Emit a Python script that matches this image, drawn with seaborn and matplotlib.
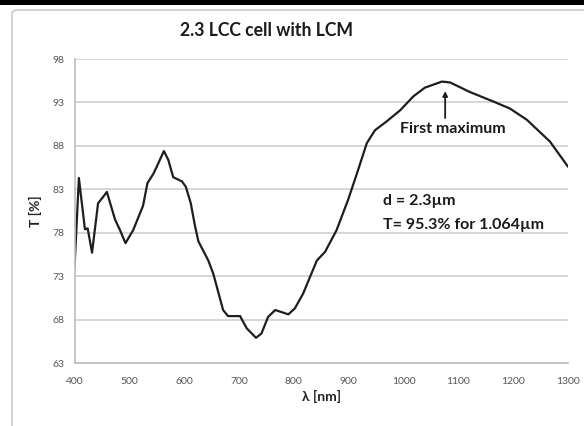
import matplotlib
matplotlib.use("Agg")
import matplotlib.pyplot as plt
import seaborn as sns
import pandas as pd
from matplotlib.patches import Rectangle, FancyBboxPatch

wavelength = [400, 408, 419, 424, 432, 443, 452, 459, 474, 483, 493, 507, 516, 525,
              533, 544, 550, 563, 571, 580, 596, 603, 612, 620, 626, 644, 653, 671,
              680, 702, 714, 731, 741, 753, 766, 790, 802, 817, 842, 857, 878, 899,
              915, 933, 948, 969, 994, 1018, 1039, 1070, 1085, 1121, 1164, 1194,
              1225, 1267, 1300]
transmission = [73.9, 84.3, 78.4, 78.5, 75.7, 81.4, 82.1, 82.7, 79.5, 78.3, 76.8, 78.3,
                79.7, 81.1, 83.7, 84.8, 85.6, 87.4, 86.4, 84.4, 83.9, 83.3, 81.4, 78.7,
                77.0, 74.8, 73.3, 69.1, 68.4, 68.4, 67.0, 65.9, 66.4, 68.3, 69.1, 68.6,
                69.3, 71.0, 74.8, 75.8, 78.3, 81.8, 84.8, 88.3, 89.8, 90.8, 92.1, 93.7,
                94.7, 95.4, 95.3, 94.2, 93.1, 92.3, 91.0, 88.5, 85.6]
x_ticks = [400, 500, 600, 700, 800, 900, 1000, 1100, 1200, 1300]
y_ticks = [63, 68, 73, 78, 83, 88, 93, 98]
title = "2.3 LCC cell with LCM"
x_label = "λ [nm]"
y_label = "T [%]"
peak_label = "First maximum"
info_lines = ["d = 2.3µm", "T= 95.3% for 1.064µm"]

sns.set_theme(style="white")
plt.rcParams["font.family"] = ["Lato", "DejaVu Sans"]

df = pd.DataFrame({"wavelength": wavelength, "T": transmission})

fig = plt.figure(figsize=(5.84, 4.26), dpi=100)
W, H = 584, 426
ax = fig.add_axes([74.5 / W, 1 - 363 / H, (568 - 74.5) / W, (363 - 59) / H])

# frame decorations
fig.patches.append(Rectangle((0, 1 - 5 / H), 1, 5 / H, transform=fig.transFigure,
                             facecolor="black", edgecolor="none", zorder=0))
fig.patches.append(FancyBboxPatch((12 / W, -0.05), 1.0, 1 - 10 / H + 0.05,
                                  boxstyle="round,pad=0,rounding_size=0.01",
                                  transform=fig.transFigure, facecolor="none",
                                  edgecolor="#c8c8c8", linewidth=1.2, zorder=0))

sns.lineplot(data=df, x="wavelength", y="T", ax=ax, color="#1e1e1e", linewidth=1.6,
             sort=False, estimator=None)

ax.set_xlim(400, 1300)
ax.set_ylim(63, 98)
ax.set_xticks(x_ticks)
ax.set_yticks(y_ticks)
ax.yaxis.grid(True, color="#d3d3d3", linewidth=1.3)
ax.xaxis.grid(False)
for s in ["top", "right"]:
    ax.spines[s].set_visible(False)
for s in ["left", "bottom"]:
    ax.spines[s].set_color("#bdbdbd")
    ax.spines[s].set_linewidth(1.2)
ax.tick_params(axis="both", which="both", length=4, width=1, color="#bdbdbd",
               labelsize=7.5, labelcolor="#555555", pad=3, direction="out")
ax.tick_params(axis="x", pad=6)

ax.set_xlabel(x_label, fontsize=10, fontweight="bold", color="#222222", labelpad=3)
ax.set_ylabel(y_label, fontsize=10, fontweight="bold", color="#222222", labelpad=8)
fig.text(267 / W, 1 - 31 / H, title, ha="center", va="center", fontsize=12.7,
         fontweight="bold", color="#1a1a1a")

ax.annotate("", xy=(1076, 94.3), xytext=(1076, 91.2),
            arrowprops=dict(arrowstyle="-|>", color="#1e1e1e", lw=1.3,
                            mutation_scale=7, shrinkA=0, shrinkB=0))
ax.text(1090, 89.9, peak_label, ha="center", va="center", fontsize=11.5,
        fontweight="bold", color="#1a1a1a")
ax.text(963, 81.6, info_lines[0], ha="left", va="center", fontsize=11.5,
        fontweight="bold", color="#1a1a1a")
ax.text(963, 78.9, info_lines[1], ha="left", va="center", fontsize=11.5,
        fontweight="bold", color="#1a1a1a")

fig.savefig("out.png", dpi=100)
